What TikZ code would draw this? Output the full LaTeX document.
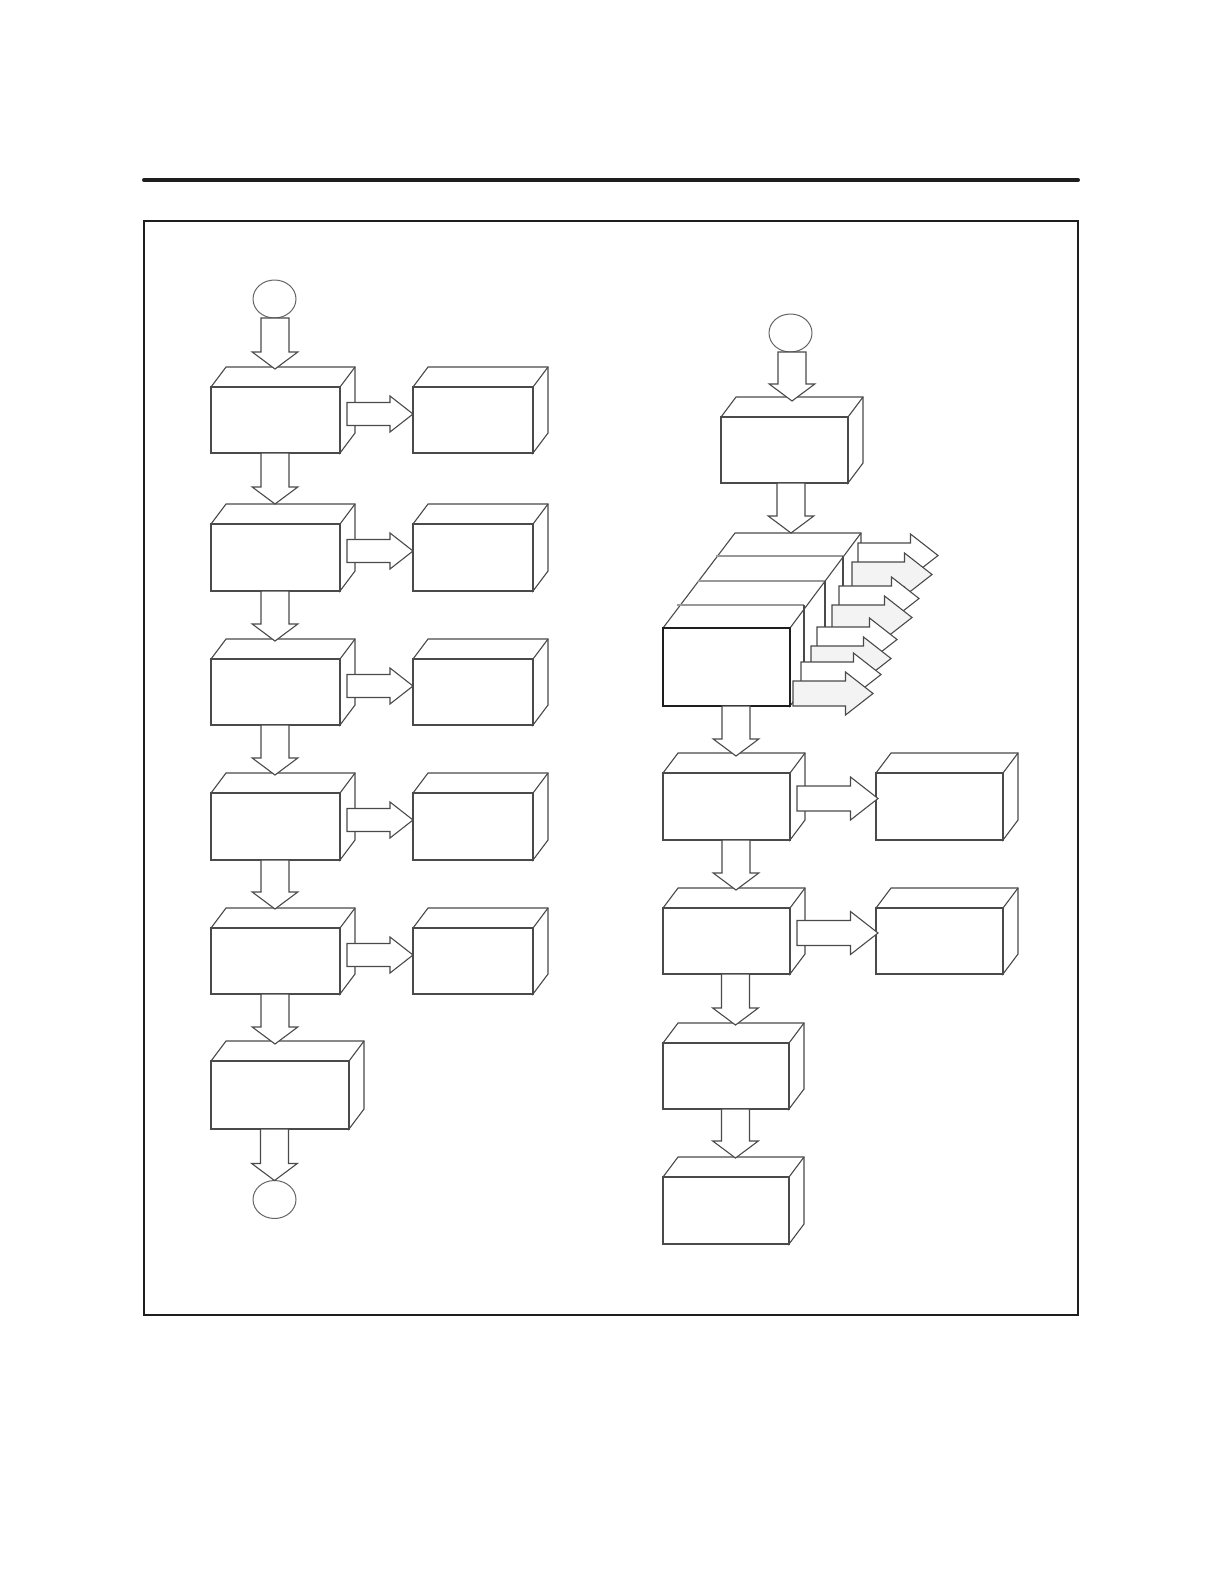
\documentclass[tikz,border=0pt]{standalone}
\usetikzlibrary{calc,shapes.geometric}
\definecolor{lc}{HTML}{4A4A4A}
\definecolor{af}{HTML}{F3F3F3}
\definecolor{fr}{HTML}{1E1E1E}
\newcommand\cube[6][ln]{%
  \path node[frontnode, minimum width={(#5-#3)*0.5pt}, minimum height={(#6-#4)*0.5pt}] (#2) at ({(#3+#5)/2},{(#4+#6)/2}) {};
  \draw[face] (#2.north west) -- ++(15,-20) -- ($(#2.north east)+(15,-20)$) -- ($(#2.south east)+(15,-20)$) -- (#2.south east) -- (#2.north east) -- cycle;
  \draw[ln] (#2.north east) -- ++(15,-20);
  \draw[#1] (#2.north west) rectangle (#2.south east);
}
\newcommand\varrow[2]{%
  \draw[barrow] let \p1=(#1), \p2=(#2) in
   (\x2-7pt,\y1) -- (\x2-7pt,\y2+8.5pt) -- (\x2-11.4pt,\y2+8.5pt) -- (\x2,\y2) -- (\x2+11.4pt,\y2+8.5pt) -- (\x2+7pt,\y2+8.5pt) -- (\x2+7pt,\y1) -- cycle;}
\newcommand\harrow[6][barrow]{%
  \draw[#1] let \p1=(#2), \p2=(#3) in
   (\x1,\y2+#4) -- (\x2-#6,\y2+#4) -- (\x2-#6,\y2+#5) -- (\x2,\y2) -- (\x2-#6,\y2-#5) -- (\x2-#6,\y2-#4) -- (\x1,\y2-#4) -- cycle;}
\begin{document}
\begin{tikzpicture}[x=0.5pt,y=-0.5pt,
  ln/.style={draw=lc, line width=0.55pt, line join=miter},
  face/.style={ln, fill=white},
  frontnode/.style={rectangle, inner sep=0pt, outer sep=0pt},
  barrow/.style={ln, fill=white},
  garrow/.style={ln, fill=af},
  darkface/.style={draw=fr, line width=0.7pt},
  term/.style={ellipse, draw=lc!85, line width=0.5pt, inner sep=0pt, outer sep=0pt, minimum width=21.5pt, minimum height=19pt, fill=white},
  divline/.style={draw=black!40, line width=0.9pt},
  rulestyle/.style={draw=fr, line width=2pt, line cap=round},
  framestyle/.style={draw=fr, line width=1.25pt}]
\useasboundingbox (0,0) rectangle (1224,1584);
% header rule and frame
\coordinate (ruleL) at (144,180);
\coordinate (ruleR) at (1078,180);
\draw[rulestyle] (ruleL) -- (ruleR);
\draw[framestyle] (144,221) rectangle (1078,1315);

% ---------- left column ----------
\node[term] (c1) at (274.5,299) {};
\node[term] (c2) at (274.5,1199.5) {};
\cube{L1}{211}{387}{340}{453}
\cube{L2}{211}{524}{340}{591}
\cube{L3}{211}{659}{340}{725}
\cube{L4}{211}{793}{340}{860}
\cube{L5}{211}{928}{340}{994}
\cube{L6}{211}{1061}{349}{1129}
\cube{S1}{413}{387}{533}{453}
\cube{S2}{413}{524}{533}{591}
\cube{S3}{413}{659}{533}{725}
\cube{S4}{413}{793}{533}{860}
\cube{S5}{413}{928}{533}{994}

\varrow{c1.south}{$(L1.north)+(-0.5,-18)$}
\varrow{L1.south}{$(L2.north)+(-0.5,-20)$}
\varrow{L2.south}{$(L3.north)+(-0.5,-18)$}
\varrow{L3.south}{$(L4.north)+(-0.5,-18)$}
\varrow{L4.south}{$(L5.north)+(-0.5,-19)$}
\varrow{L5.south}{$(L6.north)+(-5,-17)$}
\varrow{L6.south}{c2.north}
\foreach \i in {1,...,5}{
  \harrow{$(L\i.north east)+(7,27)$}{$(S\i.north west)+(0,27)$}{5.75pt}{9pt}{11.5pt}
}

% ---------- right column ----------
\node[term] (c3) at (790.5,333) {};
\cube{R1}{721}{417}{848}{483}
\cube{R3}{663}{773}{790}{840}
\cube{R4}{663}{908}{790}{974}
\cube{R5}{663}{1043}{789}{1109}
\cube{R6}{663}{1177}{789}{1244}
\cube{T3}{876}{773}{1003}{840}
\cube{T4}{876}{908}{1003}{974}

% stacked boxes
\path node[frontnode, minimum width=63.5pt, minimum height=39pt] (F) at (726.5,667) {};
\draw[face] (F.north west) -- ++(72,-95) -- ++(126,0) -- ++(0,78) -- (F.south east) -- (F.north east) -- cycle;
\draw[ln] (F.north east) -- ++(71,-95);
\foreach \dx/\dy in {14/-23,35/-47,53/-72}{
  \draw[divline] ($(F.north west)+(\dx,\dy)$) -- ($(F.north east)+(\dx,\dy)$);
  \draw[ln] ($(F.north east)+(\dx,\dy)$) -- ++(0,78);
}
\draw[darkface] (F.north west) rectangle (F.south east);

% fan of arrows leaving the stack
\foreach \k/\dx/\dy/\st in {1/68/-72.5/barrow,2/62/-53.5/garrow,3/49/-29.5/barrow,4/42/-10.5/garrow,
                            5/27/11.5/barrow,6/21/30.5/garrow,7/11/46.5/barrow,8/3/65.5/garrow}{
  \coordinate (a\k s) at ($(F.north east)+(\dx,\dy)$);
  \coordinate (a\k t) at ($(a\k s)+(80,0)$);
  \harrow[\st]{a\k s}{a\k t}{6.25pt}{10.75pt}{13.75pt}
}

\varrow{c3.south}{$(R1.north)+(7.5,-16)$}
\varrow{R1.south}{$(F.north)+(64.5,-95)$}
\varrow{F.south}{$(R3.north)+(9.5,-17)$}
\varrow{R3.south}{$(R4.north)+(9.5,-18)$}
\varrow{R4.south}{$(R5.north)+(9.5,-18)$}
\varrow{R5.south}{$(R6.north)+(9.5,-19)$}
\harrow{$(R3.north east)+(7,25.5)$}{$(T3.north west)+(2,25.5)$}{6.25pt}{10.75pt}{13.75pt}
\harrow{$(R4.north east)+(7,25)$}{$(T4.north west)+(2,25)$}{6.25pt}{10.75pt}{13.75pt}
\end{tikzpicture}
\end{document}
